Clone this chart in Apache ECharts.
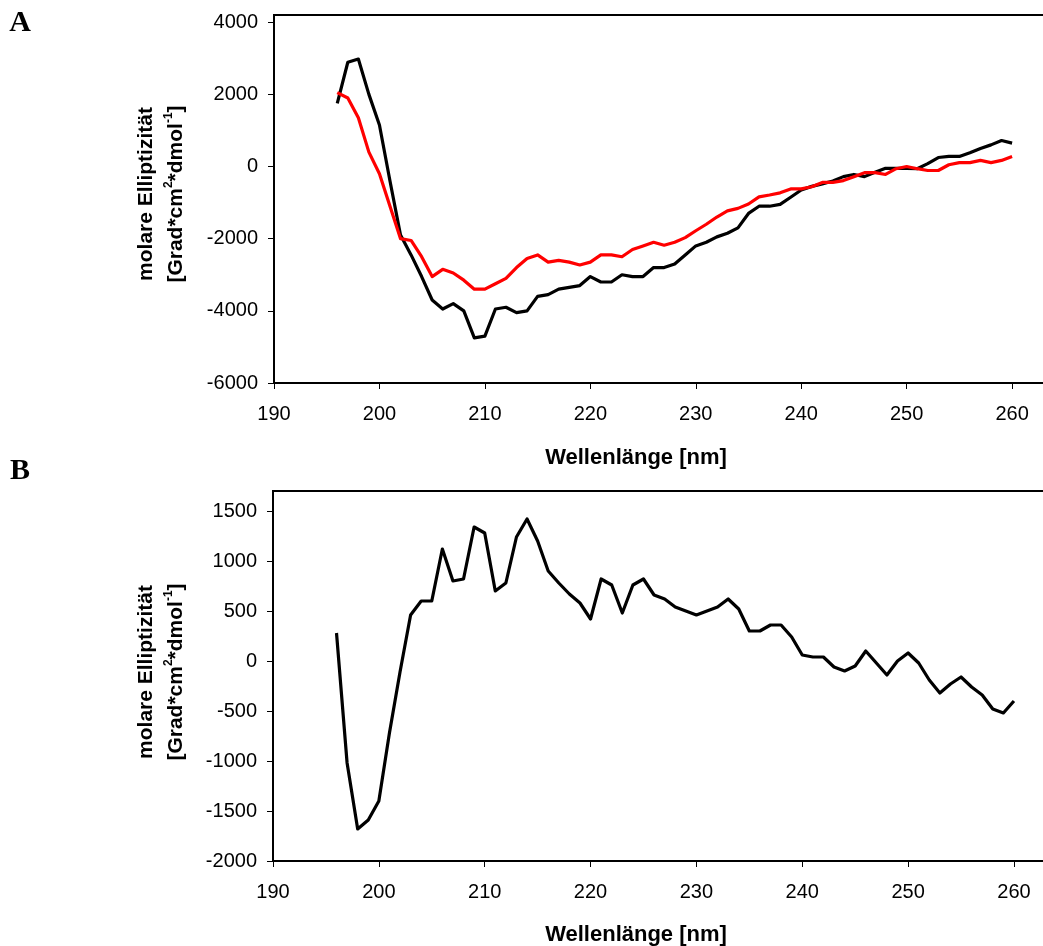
<!DOCTYPE html>
<html>
<head>
<meta charset="utf-8">
<title>Molare Elliptizität</title>
<script src="https://cdn.jsdelivr.net/npm/echarts@6/dist/echarts.min.js"></script>
<style>
  html, body { margin: 0; padding: 0; background: #fff; overflow: hidden; }
  /* the plot frames run past the right edge of the page */
  #chart { width: 1070px; height: 946px; }
</style>
</head>
<body>
<div id="chart"></div>
<script>
// Wellenlänge in nm
const wavelengths = [
  196, 197, 198, 199, 200, 201, 202, 203, 204, 205,
  206, 207, 208, 209, 210, 211, 212, 213, 214, 215,
  216, 217, 218, 219, 220, 221, 222, 223, 224, 225,
  226, 227, 228, 229, 230, 231, 232, 233, 234, 235,
  236, 237, 238, 239, 240, 241, 242, 243, 244, 245,
  246, 247, 248, 249, 250, 251, 252, 253, 254, 255,
  256, 257, 258, 259, 260
];

// Panel A, schwarze Kurve
const spectrumA_black = [
  1750, 2890, 2980, 2000, 1150, -400, -1900, -2450, -3050, -3700,
  -3950, -3800, -4000, -4750, -4700, -3950, -3900, -4050, -4000, -3600,
  -3550, -3400, -3350, -3300, -3050, -3200, -3200, -3000, -3050, -3050,
  -2800, -2800, -2700, -2450, -2200, -2100, -1950, -1850, -1700, -1300,
  -1100, -1100, -1050, -850, -650, -550, -480, -400, -280, -220,
  -280, -160, -50, -50, -50, -60, 80, 250, 280, 280,
  380, 500, 600, 720, 650
];

// Panel A, rote Kurve
const spectrumA_red = [
  2050, 1900, 1350, 400, -200, -1100, -2000, -2050, -2500, -3050,
  -2850, -2950, -3150, -3400, -3400, -3250, -3100, -2800, -2550, -2450,
  -2650, -2600, -2650, -2730, -2650, -2450, -2450, -2500, -2300, -2200,
  -2100, -2180, -2100, -1970, -1780, -1600, -1400, -1230, -1160, -1040,
  -840, -790, -730, -620, -620, -560, -440, -440, -390, -280,
  -170, -170, -220, -60, 0, -60, -110, -110, 50, 110,
  110, 170, 110, 170, 280
];

// Panel B, Differenzspektrum
const spectrumB = [
  280, -1020, -1680, -1590, -1400, -720, -110, 460, 600, 600,
  1120, 800, 820, 1340, 1280, 700, 780, 1240, 1420, 1200,
  900, 780, 670, 580, 420, 820, 760, 480, 760, 820,
  660, 620, 540, 500, 460, 500, 540, 620, 520, 300,
  300, 360, 360, 240, 60, 40, 40, -60, -100, -50,
  100, -20, -140, 0, 80, -20, -190, -320, -230, -160,
  -260, -340, -480, -520, -400
];

const xRange = { min: 190, max: 263.5, step: 10 };
const yTicksA = { min: -6000, max: 4200, step: 2000 };
const yTicksB = { min: -2000, max: 1700, step: 500 };

const xTitle = 'Wellenlänge [nm]';
const yTitleRich = '{a|molare Elliptizität}\n{b|[Grad*cm}{s|2}{b|*dmol}{s|-1}{b|]}';

const pairs = (ys) => wavelengths.map((w, i) => [w, ys[i]]);

const SANS = "'Liberation Sans', Arial, Helvetica, sans-serif";
const SERIF = "'Liberation Serif', 'Times New Roman', serif";
const plainNumber = (v) => String(v);

function xAxisCfg(gridIndex) {
  return {
    type: 'value', gridIndex,
    min: xRange.min, max: xRange.max, interval: xRange.step,
    axisLine: { show: true, onZero: false, lineStyle: { color: '#000', width: 2 } },
    axisTick: { show: true, inside: false, length: 6, lineStyle: { color: '#000', width: 1 } },
    axisLabel: { show: true, color: '#000', fontFamily: SANS, fontSize: 20, margin: 21,
                 showMaxLabel: false, formatter: plainNumber },
    splitLine: { show: false }
  };
}

function yAxisCfg(gridIndex, t) {
  return {
    type: 'value', gridIndex,
    min: t.min, max: t.max, interval: t.step,
    axisLine: { show: true, onZero: false, lineStyle: { color: '#000', width: 2 } },
    axisTick: { show: true, inside: false, length: 6, lineStyle: { color: '#000', width: 1 } },
    axisLabel: { show: true, color: '#000', fontFamily: SANS, fontSize: 20, margin: 16,
                 showMaxLabel: false, formatter: plainNumber },
    splitLine: { show: false }
  };
}

function lineSeries(xi, yi, data, color) {
  return {
    type: 'line', xAxisIndex: xi, yAxisIndex: yi,
    data, showSymbol: false, symbol: 'none',
    lineStyle: { color, width: 3.2, join: 'round' },
    animation: false
  };
}

function yTitle(cx, cy) {
  return {
    type: 'text', x: cx, y: cy, rotation: Math.PI / 2,
    style: {
      text: yTitleRich, align: 'center', verticalAlign: 'middle', fill: '#000',
      rich: {
        a: { fontFamily: SANS, fontWeight: 'bold', fontSize: 21, lineHeight: 30 },
        b: { fontFamily: SANS, fontWeight: 'bold', fontSize: 21, lineHeight: 30 },
        s: { fontFamily: SANS, fontWeight: 'bold', fontSize: 12, lineHeight: 30, verticalAlign: 'top', padding: [2, 0, 0, 0] }
      }
    }
  };
}

function plainText(text, cx, cy, font, size, weight) {
  return {
    type: 'text', x: cx, y: cy,
    style: { text, align: 'center', verticalAlign: 'middle', fill: '#000', fontFamily: font, fontSize: size, fontWeight: weight }
  };
}

const chart = echarts.init(document.getElementById('chart'), null, { renderer: 'canvas' });
chart.setOption({
  animation: false,
  backgroundColor: '#fff',
  grid: [
    { left: 274, top: 15, width: 775, height: 368, show: true, borderColor: '#000', borderWidth: 2, containLabel: false },
    { left: 273, top: 491, width: 778, height: 370, show: true, borderColor: '#000', borderWidth: 2, containLabel: false }
  ],
  xAxis: [xAxisCfg(0), xAxisCfg(1)],
  yAxis: [yAxisCfg(0, yTicksA), yAxisCfg(1, yTicksB)],
  series: [
    lineSeries(0, 0, pairs(spectrumA_black), '#000000'),
    lineSeries(0, 0, pairs(spectrumA_red), '#ff0000'),
    lineSeries(1, 1, pairs(spectrumB), '#000000')
  ],
  graphic: [
    plainText('A', 20, 23, SERIF, 30, 'bold'),
    plainText('B', 20, 471, SERIF, 30, 'bold'),
    yTitle(161, 194),
    yTitle(161, 672),
    plainText(xTitle, 636, 458, SANS, 22, 'bold'),
    plainText(xTitle, 636, 935, SANS, 22, 'bold')
  ]
});
</script>
</body>
</html>
